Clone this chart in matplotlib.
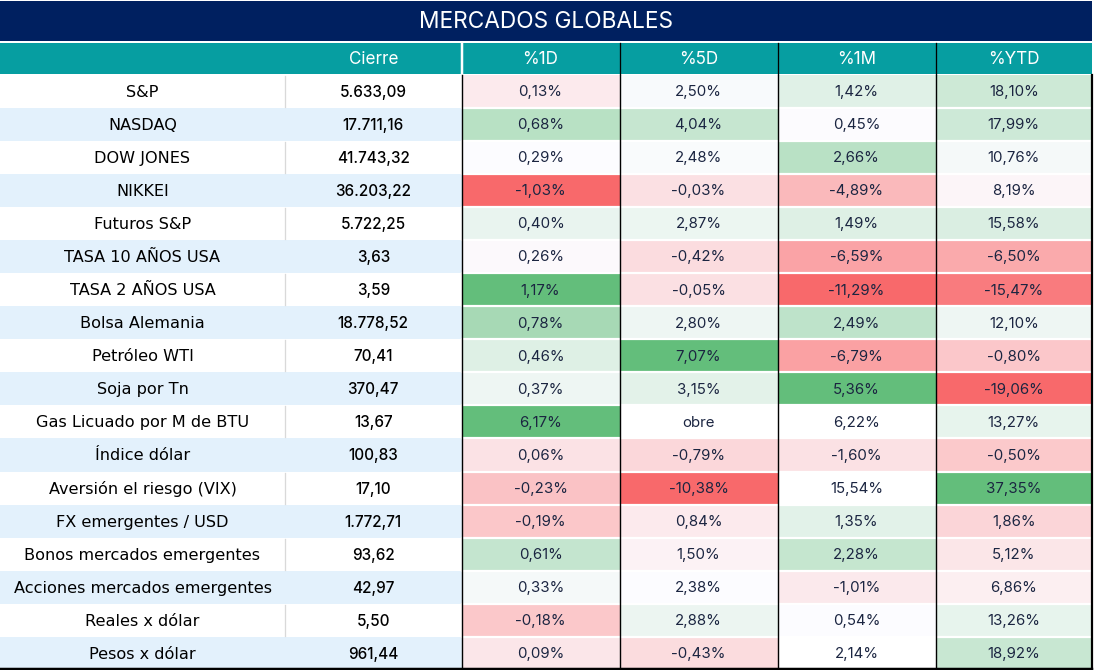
import matplotlib
matplotlib.use("Agg")
import matplotlib.pyplot as plt
from matplotlib.patches import Rectangle
import numpy as np

# ── Datos ────────────────────────────────────────────────────────────────────
TITULO = "MERCADOS GLOBALES"
COLUMNAS = ["Cierre", "%1D", "%5D", "%1M", "%YTD"]

ACTIVOS = [
    "S&P", "NASDAQ", "DOW JONES", "NIKKEI", "Futuros S&P",
    "TASA 10 AÑOS USA", "TASA 2 AÑOS USA", "Bolsa Alemania",
    "Petróleo WTI", "Soja por Tn", "Gas Licuado por M de BTU",
    "Índice dólar", "Aversión el riesgo (VIX)", "FX emergentes / USD",
    "Bonos mercados emergentes", "Acciones mercados emergentes",
    "Reales x dólar", "Pesos x dólar",
]
CIERRE = [5633.09, 17711.16, 41743.32, 36203.22, 5722.25, 3.63, 3.59,
          18778.52, 70.41, 370.47, 13.67, 100.83, 17.10, 1772.71, 93.62,
          42.97, 5.50, 961.44]
VAR_1D = [0.13, 0.68, 0.29, -1.03, 0.40, 0.26, 1.17, 0.78, 0.46, 0.37,
          6.17, 0.06, -0.23, -0.19, 0.61, 0.33, -0.18, 0.09]
VAR_5D = [2.50, 4.04, 2.48, -0.03, 2.87, -0.42, -0.05, 2.80, 7.07, 3.15,
          None, -0.79, -10.38, 0.84, 1.50, 2.38, 2.88, -0.43]
VAR_1M = [1.42, 0.45, 2.66, -4.89, 1.49, -6.59, -11.29, 2.49, -6.79, 5.36,
          6.22, -1.60, 15.54, 1.35, 2.28, -1.01, 0.54, 2.14]
VAR_YTD = [18.10, 17.99, 10.76, 8.19, 15.58, -6.50, -15.47, 12.10, -0.80,
           -19.06, 13.27, -0.50, 37.35, 1.86, 5.12, 6.86, 13.26, 18.92]
TEXTO_VACIO = "obre"

# filas fuera del rango de la escala de color (por columna)
FUERA_ESCALA = {0: [10], 1: [], 2: [10, 12, 17], 3: []}
SIN_COLOR = {0: [], 1: [], 2: [10, 12, 17], 3: []}

# ── Paleta ───────────────────────────────────────────────────────────────────
NAVY = "#002060"
TEAL = "#069EA1"
AZUL_FILA = "#E3F1FC"
GRIS = "#D9D9D9"
TXT_PCT = "#1B2541"
ROJO = np.array([0xF8, 0x69, 0x6B]) / 255
MEDIO = np.array([0xFC, 0xFC, 0xFF]) / 255
VERDE = np.array([0x63, 0xBE, 0x7B]) / 255

FONT = "Inter"
FONT_LBL = "DejaVu Sans"


def fmt_num(v):
    s = f"{v:,.2f}"
    return s.replace(",", "X").replace(".", ",").replace("X", ".")


def fmt_pct(v):
    return TEXTO_VACIO if v is None else f"{v:.2f}".replace(".", ",") + "%"


def escala(valores, fuera, sin_color):
    vals = [v for i, v in enumerate(valores) if v is not None and i not in fuera]
    vmin, vmed, vmax = min(vals), np.median(vals), max(vals)
    colores = []
    for i, v in enumerate(valores):
        if v is None or i in sin_color:
            colores.append("white")
            continue
        if v < vmed:
            t = min(1.0, (vmed - v) / (vmed - vmin))
            c = MEDIO + t * (ROJO - MEDIO)
        else:
            t = min(1.0, (v - vmed) / (vmax - vmed))
            c = MEDIO + t * (VERDE - MEDIO)
        colores.append(tuple(c))
    return colores


W, H = 1094, 670
fig = plt.figure(figsize=(W / 100, H / 100), dpi=100)
ax = fig.add_axes([0, 0, 1, 1])
ax.set_xlim(0, W)
ax.set_ylim(H, 0)
ax.axis("off")

xs = [0, 285, 461.5, 619.5, 777.5, 935.5, 1092]
y_tit, h_tit = 0.5, 40.5
y_hdr, h_hdr = 42.5, 31
y0 = 74.5
n = len(ACTIVOS)
h_fila = (H - y0) / n
px = 0.72

# título
ax.add_patch(Rectangle((0, y_tit), xs[-1], h_tit, color=NAVY, lw=0))
ax.text(xs[-1] / 2, y_tit + h_tit / 2 + 1, TITULO, color="white",
        fontsize=16.3, family=FONT, ha="center", va="center")

# cabecera
ax.add_patch(Rectangle((0, y_hdr), xs[-1], h_hdr, color=TEAL, lw=0))
for j, col in enumerate(COLUMNAS):
    cx = (xs[j + 1] + xs[j + 2]) / 2
    ax.text(cx, y_hdr + h_hdr / 2 + 1, col, color="white", fontsize=12.3,
            family=FONT, ha="center", va="center")
ax.plot([xs[2], xs[2]], [y_hdr, y_hdr + h_hdr], color="white", lw=2.5 * px)
for x in xs[3:6]:
    ax.plot([x, x], [y_hdr, y_hdr + h_hdr], color="black", lw=1.3 * px)

# cuerpo
series = [VAR_1D, VAR_5D, VAR_1M, VAR_YTD]
colores = [escala(s, FUERA_ESCALA[k], SIN_COLOR[k]) for k, s in enumerate(series)]

for i, nombre in enumerate(ACTIVOS):
    y = y0 + i * h_fila
    cy = y + h_fila / 2 + 1
    fondo = "white" if i % 2 == 0 else AZUL_FILA
    ax.add_patch(Rectangle((0, y), xs[2], h_fila, color=fondo, lw=0))
    if i % 2 == 0:
        ax.plot([xs[1], xs[1]], [y + 1, y + h_fila - 1], color=GRIS, lw=1.3 * px)
    ax.text((xs[0] + xs[1]) / 2, cy, nombre, fontsize=11.6, family=FONT_LBL,
            color="black", ha="center", va="center")
    ax.text((xs[1] + xs[2]) / 2, cy, fmt_num(CIERRE[i]), fontsize=11,
            family=FONT, weight="medium", color="black", ha="center", va="center")
    for k, s in enumerate(series):
        ax.add_patch(Rectangle((xs[k + 2], y), xs[k + 3] - xs[k + 2], h_fila,
                               color=colores[k][i], lw=0))
        ax.text((xs[k + 2] + xs[k + 3]) / 2, cy, fmt_pct(s[i]), fontsize=10.8,
                family=FONT, color=TXT_PCT, ha="center", va="center")
    if i > 0:
        ax.plot([xs[2], xs[-1]], [y, y], color="white", lw=2.2 * px)

# bordes
for x in xs[2:6]:
    ax.plot([x, x], [y0, H], color="black", lw=1.4 * px)
ax.plot([xs[-1], xs[-1]], [y0, H], color="black", lw=2.2 * px)
ax.plot([0, xs[-1]], [H - 1, H - 1], color="black", lw=2.5 * px)

fig.savefig("out.png", dpi=100, facecolor="white")
